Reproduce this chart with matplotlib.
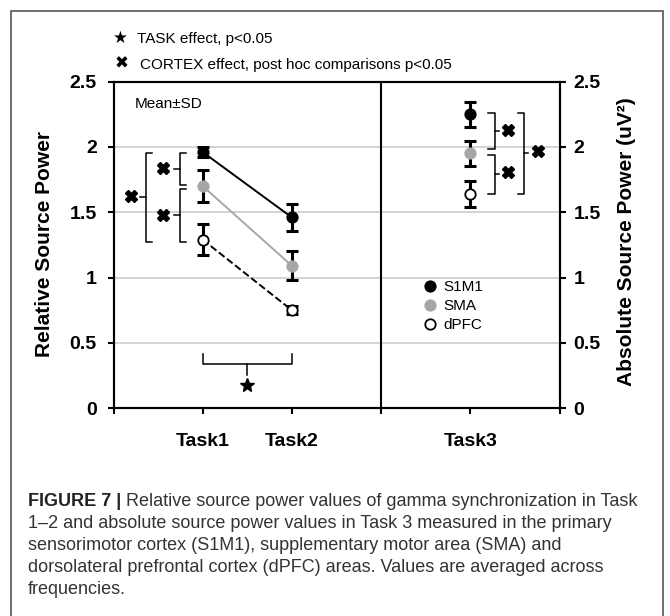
import matplotlib
matplotlib.use("Agg")
import matplotlib.pyplot as plt
from matplotlib.lines import Line2D
from matplotlib.patches import Rectangle

plt.rcParams['font.family'] = ['Liberation Sans', 'DejaVu Sans']

# Task positions on the shared x axis
task_x = [1, 2]
task3_x = 4
xtick_pos = [0, 1, 2, 3, 4, 5]
xtick_labels = ['', 'Task1', 'Task2', '', 'Task3', '']
ytick_pos = [0, 0.5, 1, 1.5, 2, 2.5]
ytick_labels = ['0', '0.5', '1', '1.5', '2', '2.5']

# Relative source power (Task1, Task2), mean and SD
s1m1_rel = [1.96, 1.46]
s1m1_rel_sd = [0.04, 0.10]
sma_rel = [1.70, 1.09]
sma_rel_sd = [0.125, 0.11]
dpfc_rel = [1.29, 0.75]
dpfc_rel_sd = [0.12, 0.03]

# Absolute source power in Task3 (S1M1, SMA, dPFC)
regions = ['S1M1', 'SMA', 'dPFC']
task3_abs = [2.25, 1.95, 1.64]
task3_abs_sd = [0.095, 0.095, 0.10]

face_cols = ['black', '#a6a6a6', 'white']
edge_cols = ['black', '#a6a6a6', 'black']
line_cols = ['black', '#a6a6a6', 'black']
line_styles = ['-', '-', '--']

caption_head = 'FIGURE 7 |'
caption_lines = [
    'Relative source power values of gamma synchronization in Task',
    '1\u20132 and absolute source power values in Task 3 measured in the primary',
    'sensorimotor cortex (S1M1), supplementary motor area (SMA) and',
    'dorsolateral prefrontal cortex (dPFC) areas. Values are averaged across',
    'frequencies.',
]

W, H = 670, 616
fig = plt.figure(figsize=(W / 100, H / 100), dpi=100)
ax = fig.add_axes([113.5 / W, 1 - 408.3 / H, 446 / W, 326.8 / H])
ax2 = ax.twinx()

for a in (ax, ax2):
    a.set_xlim(0, 5)
    a.set_ylim(0, 2.5)
    for s in a.spines.values():
        s.set_linewidth(1.5)

# horizontal grid and the panel divider
for g in ytick_pos[1:-1]:
    ax.axhline(g, color='#c8c8c8', lw=1.1, zorder=0)
ax.axvline(3, color='black', lw=1.5, zorder=1)

rel_means = [s1m1_rel, sma_rel, dpfc_rel]
rel_sds = [s1m1_rel_sd, sma_rel_sd, dpfc_rel_sd]
for i in range(3):
    ax.plot(task_x, rel_means[i], color=line_cols[i], ls=line_styles[i],
            lw=1.4, zorder=2)
    ax.errorbar(task_x, rel_means[i], yerr=rel_sds[i], fmt='none',
                ecolor='black', elinewidth=2.2, capsize=4, capthick=2.2, zorder=3)
    ax.plot(task_x, rel_means[i], 'o', ms=7.5, mfc=face_cols[i],
            mec=edge_cols[i], mew=1.3, zorder=4)

for i in range(3):
    ax2.errorbar([task3_x], [task3_abs[i]], yerr=[task3_abs_sd[i]], fmt='none',
                 ecolor='black', elinewidth=2.2, capsize=4, capthick=2.2, zorder=3)
    ax2.plot([task3_x], [task3_abs[i]], 'o', ms=7.5, mfc=face_cols[i],
             mec=edge_cols[i], mew=1.3, zorder=4)


def bracket(a, x, y0, y1, arm, tick):
    # vertical bar with arms pointing to the data and a tick at its middle
    ym = (y0 + y1) / 2
    a.plot([x + arm, x, x, x + arm], [y0, y0, y1, y1], color='black', lw=1.1)
    a.plot([x, x - tick], [ym, ym], color='black', lw=1.1)


# CORTEX effect brackets, Task1
bracket(ax, 0.746, 1.955, 1.71, 0.065, 0.07)
bracket(ax, 0.746, 1.675, 1.275, 0.065, 0.07)
bracket(ax, 0.361, 1.955, 1.275, 0.075, 0.065)
ax.plot([0.555, 0.555, 0.193], [1.836, 1.479, 1.624], 'X', color='black', ms=8)

# CORTEX effect brackets, Task3
bracket(ax2, 4.277, 2.26, 1.98, -0.075, -0.05)
bracket(ax2, 4.277, 1.94, 1.64, -0.075, -0.05)
bracket(ax2, 4.602, 2.26, 1.64, -0.065, -0.05)
ax2.plot([4.426, 4.426, 4.755], [2.129, 1.81, 1.969], 'X', color='black', ms=8)

# TASK effect between Task1 and Task2
ax.plot([1, 1, 2, 2], [0.415, 0.337, 0.337, 0.415], color='black', lw=1.1)
ax.plot([1.5, 1.5], [0.337, 0.255], color='black', lw=1.1)
ax.plot([1.5], [0.178], '*', color='black', ms=10)

ax.text(0.048, 0.93, 'Mean\u00b1SD', transform=ax.transAxes, fontsize=11,
        va='center', ha='left')

handles = [Line2D([], [], ls='none', marker='o', ms=7.5, mfc=face_cols[i],
                  mec=edge_cols[i], mew=1.3) for i in range(3)]
ax2.legend(handles, regions, loc='upper left', bbox_to_anchor=(0.695, 0.392),
           frameon=False, fontsize=11, handlelength=0.8, handletextpad=0.5,
           labelspacing=0.32, borderpad=0, borderaxespad=0)

ax.set_xticks(xtick_pos)
ax.set_xticklabels(xtick_labels)
ax.set_yticks(ytick_pos)
ax.set_yticklabels(ytick_labels)
ax2.set_yticks(ytick_pos)
ax2.set_yticklabels(ytick_labels)
ax.tick_params(axis='x', direction='out', length=4, width=1.5, labelsize=14, pad=14)
ax.tick_params(axis='y', direction='out', length=4, width=1.5, labelsize=14, pad=8)
ax2.tick_params(axis='y', direction='out', length=4, width=1.5, labelsize=14, pad=6)
for lbl in ax.get_xticklabels() + ax.get_yticklabels() + ax2.get_yticklabels():
    lbl.set_fontweight('bold')

fig.text(45 / W, 1 - 244 / H, 'Relative Source Power', rotation=90,
         fontsize=15, fontweight='bold', ha='center', va='center')
fig.text(626 / W, 1 - 242 / H, 'Absolute Source Power (uV\u00b2)', rotation=90,
         fontsize=15, fontweight='bold', ha='center', va='center')

# significance key above the plot
fig.text(120.7 / W, 1 - 37.7 / H, '\u2605', fontsize=12, ha='center', va='center',
         family='DejaVu Sans')
fig.text(137.3 / W, 1 - 43.3 / H, 'TASK effect, p<0.05', fontsize=11, va='baseline')
fig.text(121.7 / W, 1 - 63.3 / H, '\u2716', fontsize=12, ha='center', va='center',
         family='DejaVu Sans')
fig.text(140 / W, 1 - 69 / H, 'CORTEX effect, post hoc comparisons p<0.05',
         fontsize=11, va='baseline')

# caption, first line continues after the bold heading
cap_size = 13
head = fig.text(27.5 / W, 1 - 506 / H, caption_head, fontsize=cap_size,
                fontweight='bold', color='#222222', va='baseline')
fig.text(0, 1 - 506 / H, ' ' + caption_lines[0], fontsize=cap_size, color='#333333',
         va='baseline',
         transform=matplotlib.transforms.offset_copy(
             fig.transFigure, fig=fig, x=0, y=0))
first_line = fig.texts[-1]
for k, line in enumerate(caption_lines[1:], start=1):
    fig.text(27.5 / W, 1 - (506 + 22 * k) / H, line, fontsize=cap_size,
             color='#333333', va='baseline')

fig.add_artist(Rectangle((11 / W, -0.05), 652 / W, 0.05 + 1 - 11 / H,
                         transform=fig.transFigure, fill=False,
                         edgecolor='#555555', lw=1.2))

fig.canvas.draw()
bb = head.get_window_extent()
first_line.set_x(bb.x1 / W)

fig.savefig('out.png', dpi=100)
